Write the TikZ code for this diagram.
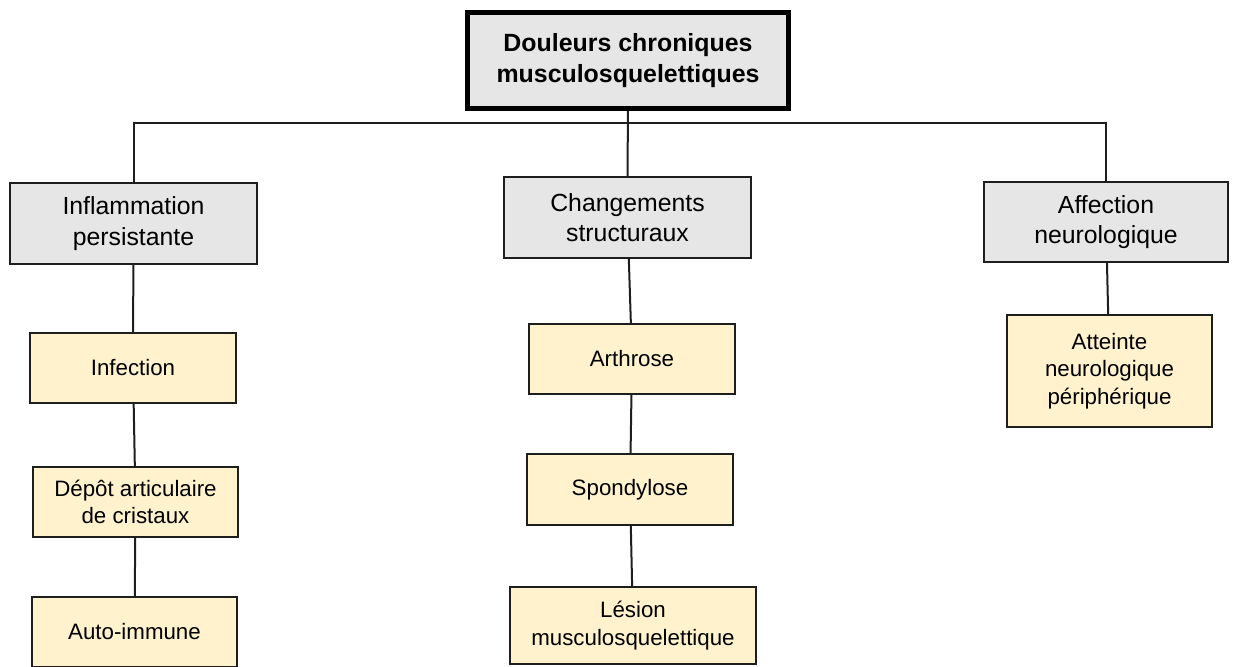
\documentclass[tikz,border=0pt]{standalone}
\usepackage{fontspec}
\setmainfont{Liberation Sans}
\usepackage{tikz}
\usetikzlibrary{positioning, calc}
\usepackage{xcolor}
\definecolor{boxgray}{RGB}{230,230,230}
\definecolor{causeyellow}{RGB}{255,242,204}
\definecolor{linedark}{RGB}{30,30,30}

\begin{document}
\begin{tikzpicture}[x=1pt, y=-1pt,
        rootbox/.style={draw=black, line width=5pt, fill=boxgray, align=center, inner sep=0pt,
            font=\fontsize{24.9}{31.7}\selectfont\bfseries},
        catbox/.style={draw=linedark, line width=2pt, fill=boxgray, align=center, inner sep=0pt,
            font=\fontsize{24.8}{30.7}\selectfont},
        causebox/.style={draw=linedark, line width=2pt, fill=causeyellow, align=center, inner sep=0pt,
            font=\fontsize{22.3}{27.3}\selectfont},
        link/.style={draw=linedark, line width=2pt}]
        \useasboundingbox (0,0) rectangle (1233,666);

        % Root
        \node[rootbox, minimum width=321pt, minimum height=96pt] (root) at (628, 60.5) {Douleurs chroniques\\musculosquelettiques};

        % Categories
        \node[catbox, minimum width=247pt, minimum height=81pt] (infl) at (133.5, 223.5) {Inflammation\\persistante};
        \node[catbox, minimum width=247pt, minimum height=81pt] (chang) at (627.5, 217.5) {Changements\\structuraux};
        \node[catbox, minimum width=244pt, minimum height=80pt] (affect) at (1106, 222) {Affection\\neurologique};

        % Causes, left column
        \node[causebox, minimum width=206pt, minimum height=70pt] (infec) at (133, 368) {Infection};
        \node[causebox, minimum width=205pt, minimum height=70pt] (depot) at (135.5, 502) {Dépôt articulaire\\de cristaux};
        \node[causebox, minimum width=205pt, minimum height=70pt] (autoim) at (134.5, 632) {Auto-immune};

        % Causes, middle column
        \node[causebox, minimum width=206pt, minimum height=70pt] (arthr) at (632, 359) {Arthrose};
        \node[causebox, minimum width=206pt, minimum height=71pt] (spond) at (630, 489.5) {Spondylose};
        \node[causebox, minimum width=246pt, minimum height=77pt] (lesion) at (633, 625.5) {Lésion\\musculosquelettique};

        % Causes, right column
        \node[causebox, minimum width=205pt, minimum height=112pt] (atteinte) at (1109.5, 371) {Atteinte\\neurologique\\périphérique};

        % Connectors
        \coordinate (bar) at (628, 123);
        \draw[link] (root) -- (chang);
        \draw[link] (infl.north) |- (bar) -| (affect.north);
        \draw[link] (infl) -- (infec);
        \draw[link] (infec) -- (depot);
        \draw[link] (depot) -- (autoim);
        \draw[link] (chang) -- (arthr);
        \draw[link] (arthr) -- (spond);
        \draw[link] (spond) -- (lesion);
        \draw[link] (affect) -- (atteinte);

    \end{tikzpicture}
\end{document}
